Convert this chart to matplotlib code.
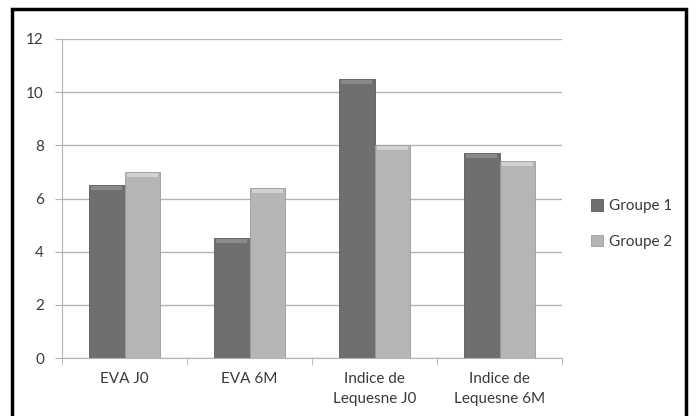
import matplotlib
matplotlib.use("Agg")
import matplotlib.pyplot as plt
from matplotlib.patches import Rectangle
import numpy as np

# ── Data ──────────────────────────────────────────────────────────────
categories = ["EVA J0", "EVA 6M", "Indice de\nLequesne J0", "Indice de\nLequesne 6M"]
groupe1 = [6.5, 4.5, 10.5, 7.7]
groupe2 = [7.0, 6.4, 8.0, 7.4]
series_names = ["Groupe 1", "Groupe 2"]

C1 = "#6f6f71"
C2 = "#b5b5b7"
GRID = "#b3b3b3"
TXT = "#3a3a3a"

plt.rcParams["font.family"] = ["Lato", "DejaVu Sans"]

fig = plt.figure(figsize=(6.97, 4.16), dpi=100)
ax = fig.add_axes([62 / 697, 1 - 358 / 416, 500 / 697, 319 / 416])

x = np.arange(len(categories))
w = 0.285
b1 = ax.bar(x - w / 2, groupe1, w, color=C1, edgecolor="#5a5a5c", linewidth=0.6,
            label=series_names[0], zorder=3)
b2 = ax.bar(x + w / 2, groupe2, w, color=C2, edgecolor="#9c9c9e", linewidth=0.6,
            label=series_names[1], zorder=3)

# bevel highlight on top of each bar
for bars, hi in ((b1, "#8a8a8c"), (b2, "#d2d2d4")):
    for r in bars:
        ax.add_patch(Rectangle((r.get_x() + 0.02, r.get_height() - 0.18),
                               r.get_width() - 0.04, 0.14,
                               color=hi, zorder=4, linewidth=0))

ax.set_xlim(-0.5, len(categories) - 0.5)
ax.set_ylim(0, 12)
ax.set_yticks(range(0, 13, 2))
ax.set_xticks(np.arange(-0.5, len(categories), 1.0), minor=True)
ax.set_xticks(x)
ax.set_xticklabels(categories, fontsize=11, color=TXT, linespacing=1.6)
ax.tick_params(axis="x", which="major", length=0, pad=10)
ax.tick_params(axis="x", which="minor", length=5, color=GRID, direction="out")
ax.tick_params(axis="y", length=5, color=GRID, labelsize=11, labelcolor=TXT, pad=8)

ax.grid(axis="y", color=GRID, linewidth=1.0, zorder=0)
for s in ("top", "right"):
    ax.spines[s].set_visible(False)
ax.spines["left"].set_color(GRID)
ax.spines["bottom"].set_color(GRID)

ax.legend(loc="center left", bbox_to_anchor=(1.03, 0.42), frameon=False,
          fontsize=11, handlelength=0.8, handleheight=0.8, labelspacing=1.4,
          handletextpad=0.4, labelcolor=TXT)

# outer black frame
fig.patches.append(Rectangle((12 / 697, -0.02), 674 / 697, 1 - 9 / 416 + 0.02,
                             transform=fig.transFigure, fill=False,
                             edgecolor="black", linewidth=2.5))

fig.savefig("out.png", dpi=100, facecolor="white")
